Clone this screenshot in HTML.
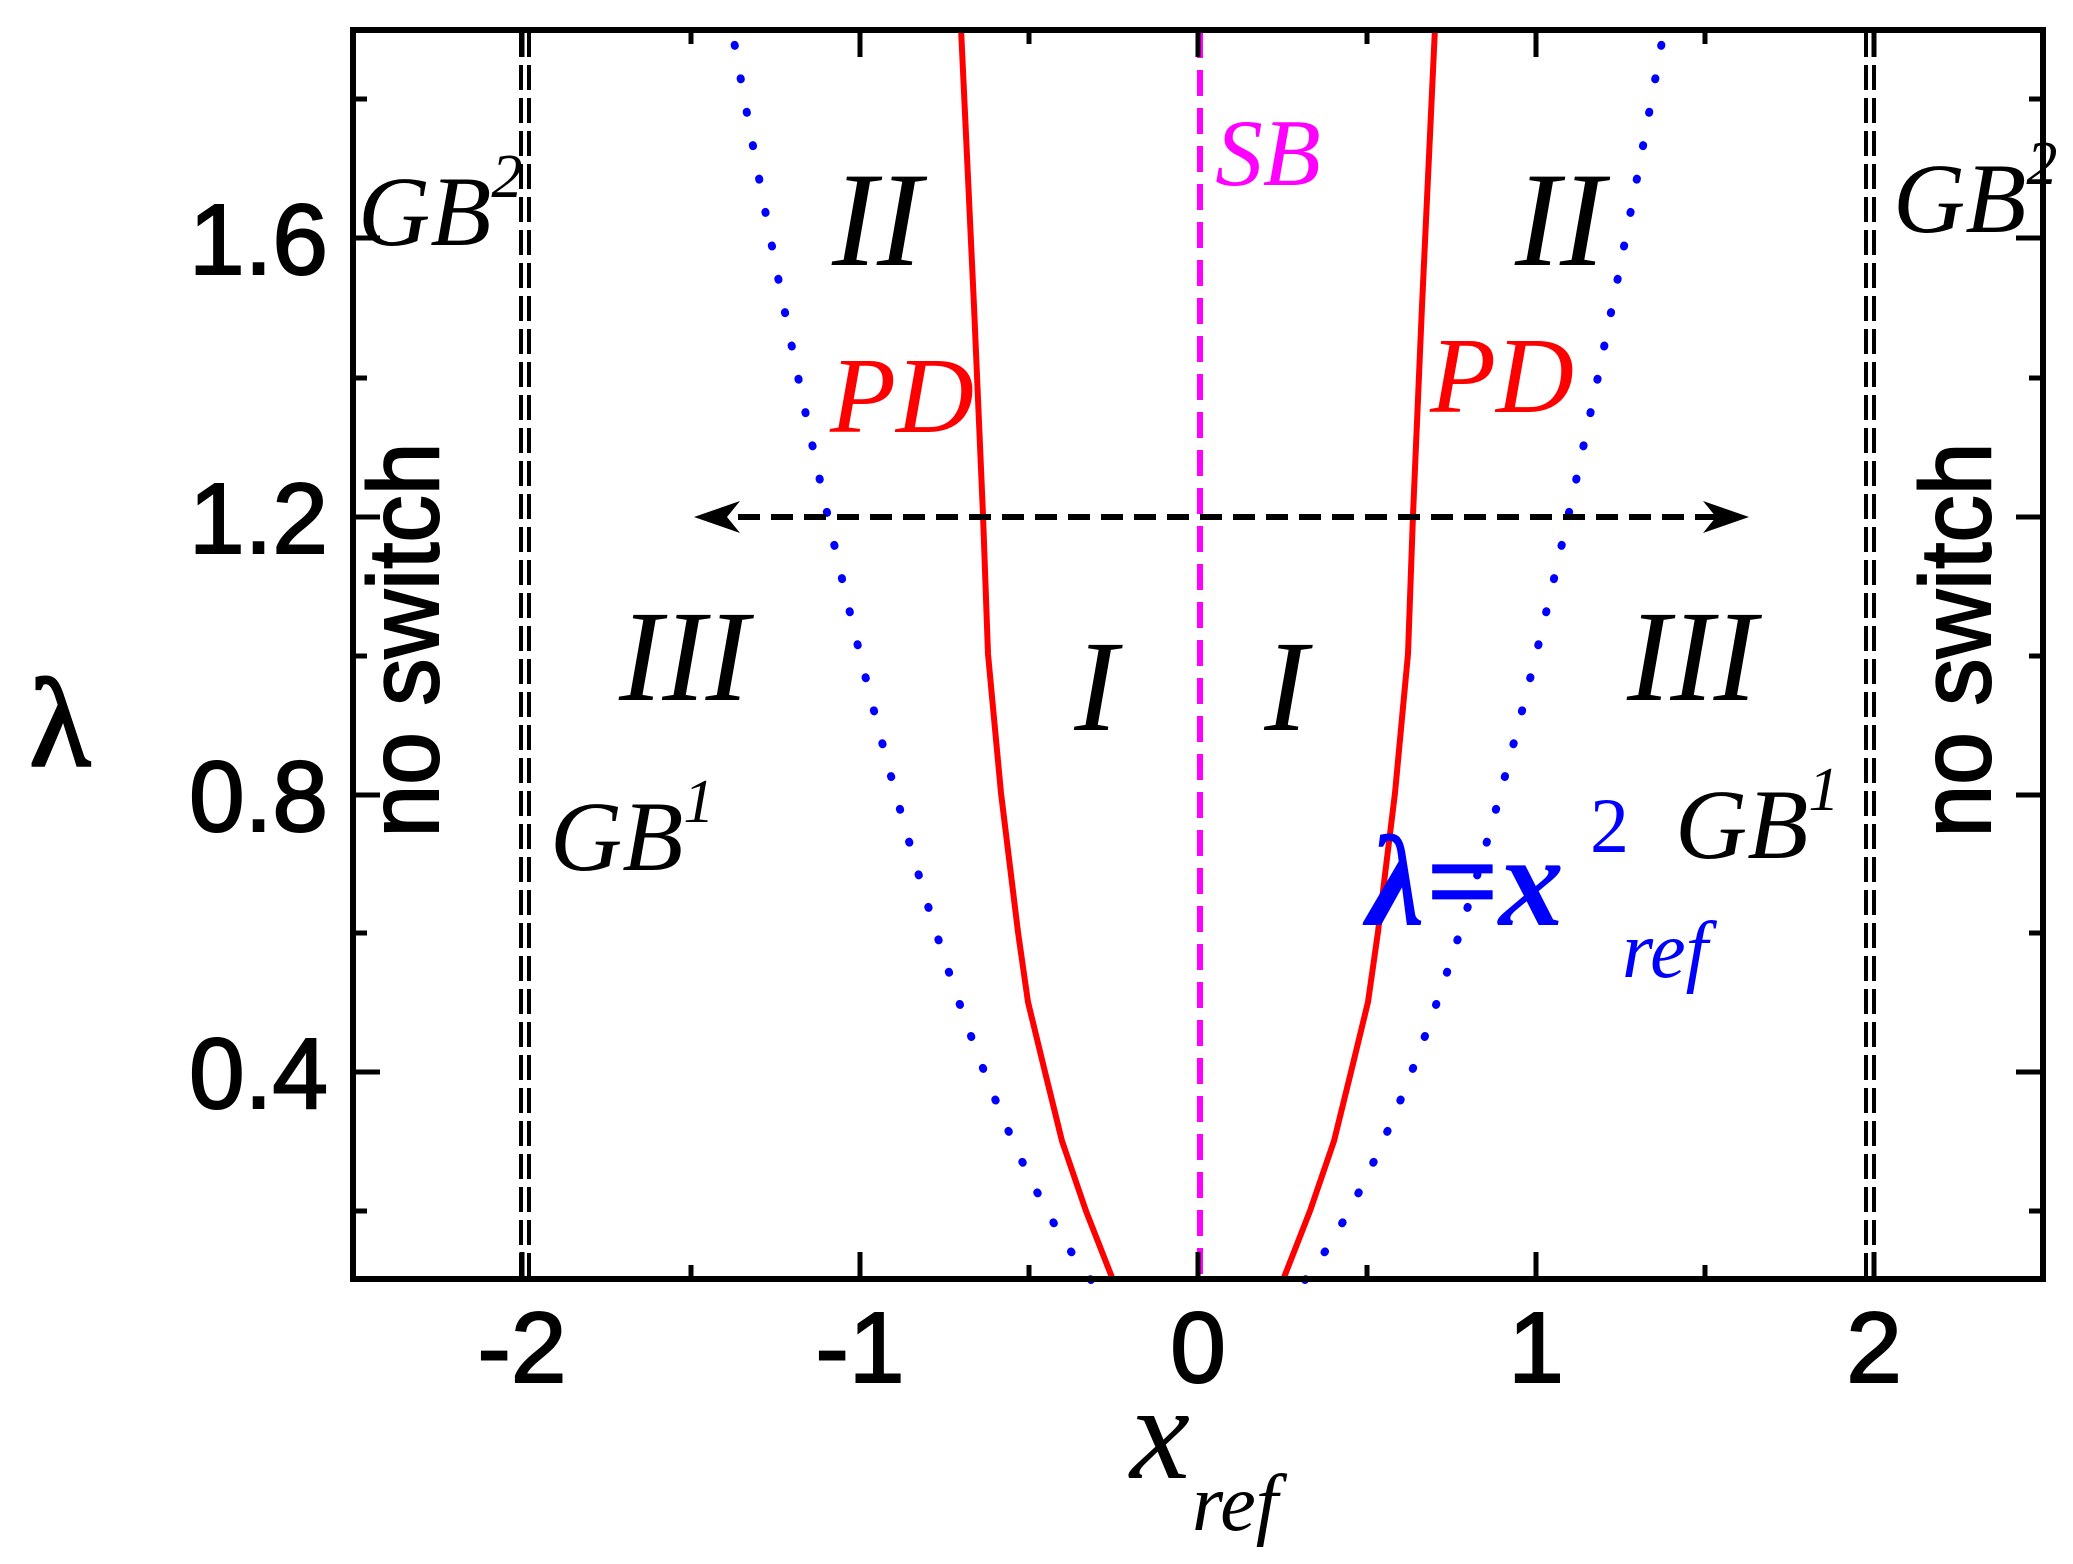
<!DOCTYPE html>
<html><head><meta charset="utf-8"><style>
html,body{margin:0;padding:0;background:#fff;}
svg{display:block;}
.t{font-family:"Liberation Sans",sans-serif;font-size:100px;fill:#000;}
.i{font-family:"Liberation Serif",serif;font-style:italic;}
</style></head><body>
<svg width="2073" height="1564" viewBox="0 0 2073 1564" xmlns="http://www.w3.org/2000/svg">
<!-- GB lines -->
<g stroke="#000" stroke-width="4" stroke-dasharray="25 8" fill="none">
<line x1="521" y1="32" x2="521" y2="1277"/><line x1="529" y1="32" x2="529" y2="1277"/>
<line x1="1866" y1="32" x2="1866" y2="1277"/><line x1="1874" y1="32" x2="1874" y2="1277"/>
</g>
<!-- blue dotted parabola -->
<g stroke="#0000ff" stroke-width="8" stroke-linecap="round" stroke-dasharray="1 33" fill="none">
<path d="M1305,1280 Q1484,1047 1664,30"/>
<path d="M1091,1280 Q912,1047 732,30"/>
</g>
<!-- PD red -->
<g stroke="#ff0000" stroke-width="6" fill="none" stroke-linejoin="round">
<polyline points="1283,1280 1310,1211 1334,1141 1351,1072 1368,1002 1378,932 1395,793 1408,654 1413,515 1422,306 1435,28"/>
<polyline points="1113,1280 1086,1211 1062,1141 1045,1072 1028,1002 1018,932 1001,793 988,654 983,515 974,306 961,28"/>
</g>
<!-- SB -->
<line x1="1200" y1="32" x2="1200" y2="1277" stroke="#ff00ff" stroke-width="6" stroke-dasharray="26 12"/>
<!-- arrow -->
<line x1="705" y1="517" x2="1738" y2="517" stroke="#000" stroke-width="6" stroke-dasharray="22 11"/>
<path d="M694,517 L740,501 L727,517 L740,533 Z" fill="#000"/>
<path d="M1749,517 L1703,501 L1716,517 L1703,533 Z" fill="#000"/>
<!-- frame -->
<rect x="353" y="30" width="1690" height="1249" fill="none" stroke="#000" stroke-width="6"/>
<g stroke="#000" stroke-width="5">
<line x1="522" y1="1279" x2="522" y2="1252"/><line x1="860" y1="1279" x2="860" y2="1252"/><line x1="1198" y1="1279" x2="1198" y2="1252"/><line x1="1536" y1="1279" x2="1536" y2="1252"/><line x1="1874" y1="1279" x2="1874" y2="1252"/>
<line x1="691" y1="1279" x2="691" y2="1265"/><line x1="1029" y1="1279" x2="1029" y2="1265"/><line x1="1367" y1="1279" x2="1367" y2="1265"/><line x1="1705" y1="1279" x2="1705" y2="1265"/>
<line x1="522" y1="30" x2="522" y2="57"/><line x1="860" y1="30" x2="860" y2="57"/><line x1="1198" y1="30" x2="1198" y2="57"/><line x1="1536" y1="30" x2="1536" y2="57"/><line x1="1874" y1="30" x2="1874" y2="57"/>
<line x1="691" y1="30" x2="691" y2="44"/><line x1="1029" y1="30" x2="1029" y2="44"/><line x1="1367" y1="30" x2="1367" y2="44"/><line x1="1705" y1="30" x2="1705" y2="44"/>
<line x1="353" y1="238" x2="380" y2="238"/><line x1="353" y1="517" x2="380" y2="517"/><line x1="353" y1="795" x2="380" y2="795"/><line x1="353" y1="1072" x2="380" y2="1072"/>
<line x1="2043" y1="238" x2="2016" y2="238"/><line x1="2043" y1="517" x2="2016" y2="517"/><line x1="2043" y1="795" x2="2016" y2="795"/><line x1="2043" y1="1072" x2="2016" y2="1072"/>
<line x1="353" y1="99" x2="367" y2="99"/><line x1="353" y1="378" x2="367" y2="378"/><line x1="353" y1="656" x2="367" y2="656"/><line x1="353" y1="933" x2="367" y2="933"/><line x1="353" y1="1211" x2="367" y2="1211"/>
<line x1="2043" y1="99" x2="2029" y2="99"/><line x1="2043" y1="378" x2="2029" y2="378"/><line x1="2043" y1="656" x2="2029" y2="656"/><line x1="2043" y1="933" x2="2029" y2="933"/><line x1="2043" y1="1211" x2="2029" y2="1211"/>
</g>
<g class="t" text-anchor="end" stroke="#000" stroke-width="2">
<text x="328" y="274">1.6</text><text x="328" y="553">1.2</text><text x="328" y="831">0.8</text><text x="328" y="1108">0.4</text>
</g>
<g class="t" text-anchor="middle" stroke="#000" stroke-width="2">
<text x="522" y="1382">-2</text><text x="860" y="1382">-1</text><text x="1198" y="1382">0</text><text x="1536" y="1382">1</text><text x="1874" y="1382">2</text>
</g>
<text x="60" y="765" text-anchor="middle" font-family="Liberation Serif,serif" font-size="125" stroke="#000" stroke-width="3">λ</text>
<text x="1160" y="1478" class="i" font-size="135" text-anchor="middle">x</text>
<text x="1235" y="1530" class="i" font-size="80" text-anchor="middle">ref</text>
<g class="i" fill="#000" text-anchor="middle">
<text x="877" y="265" font-size="135">II</text>
<text x="1560" y="265" font-size="135">II</text>
<text x="684" y="700" font-size="130">III</text>
<text x="1692" y="700" font-size="130">III</text>
<text x="1096" y="730" font-size="130">I</text>
<text x="1286" y="730" font-size="130">I</text>
</g>
<g class="i" fill="#ff0000" font-size="108" text-anchor="middle">
<text x="902" y="432">PD</text><text x="1502" y="412">PD</text>
</g>
<text x="1268" y="185" class="i" fill="#ff00ff" font-size="95" text-anchor="middle">SB</text>
<g class="i" fill="#000" font-size="100">
<text x="358" y="245">GB<tspan font-size="62" dy="-48">2</tspan></text>
<text x="1893" y="232">GB<tspan font-size="62" dy="-48">2</tspan></text>
<text x="550" y="870">GB<tspan font-size="62" dy="-48">1</tspan></text>
<text x="1675" y="858">GB<tspan font-size="62" dy="-48">1</tspan></text>
</g>
<g class="i" fill="#0000ff">
<text x="1367" y="925" font-size="130" font-weight="bold">λ=x</text>
<text x="1590" y="852" font-size="78" font-style="normal">2</text>
<text x="1622" y="977" font-size="80">ref</text>
</g>
<text transform="translate(438,640) rotate(-90)" text-anchor="middle" class="t" font-size="82" stroke="#000" stroke-width="2" textLength="395" lengthAdjust="spacingAndGlyphs">no switch</text>
<text transform="translate(1990,640) rotate(-90)" text-anchor="middle" class="t" font-size="82" stroke="#000" stroke-width="2" textLength="395" lengthAdjust="spacingAndGlyphs">no switch</text>
</svg>
</body></html>
